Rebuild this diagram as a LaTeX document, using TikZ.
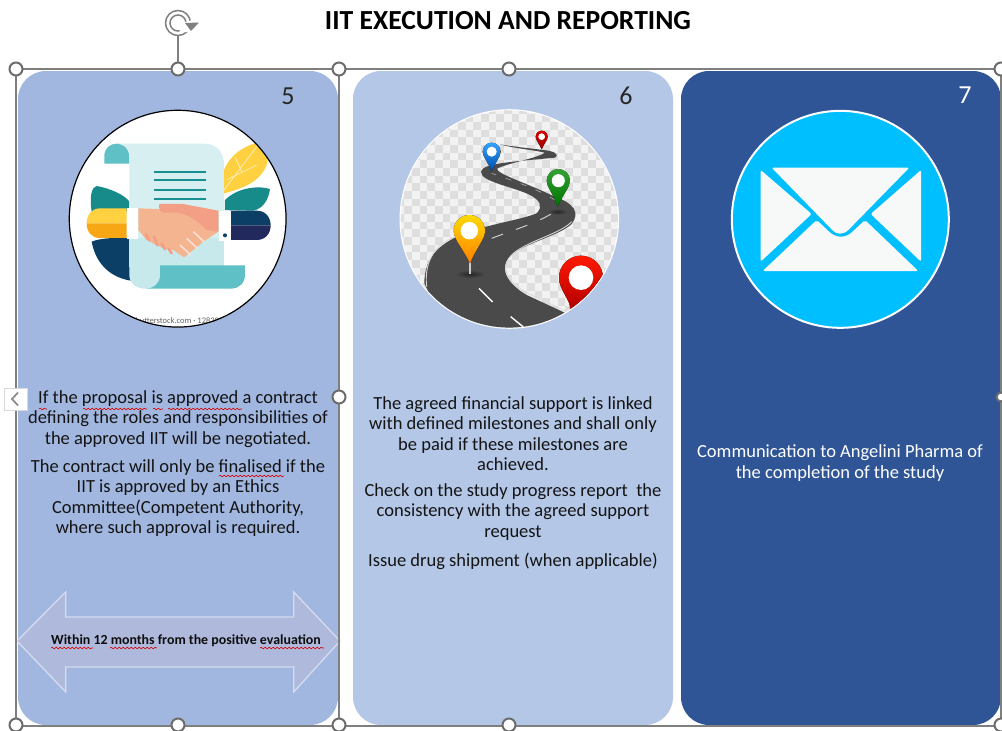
\documentclass[tikz,border=0pt]{standalone}
\usepackage{fontspec}
\setmainfont{Carlito}
\usetikzlibrary{decorations.pathmorphing}
\definecolor{panelA}{HTML}{A1B7E0}
\definecolor{panelB}{HTML}{B4C7E7}
\definecolor{panelC}{HTML}{2F5597}
\definecolor{selgray}{HTML}{7F7F7F}
\definecolor{tealA}{HTML}{5FC1C6}
\definecolor{tealB}{HTML}{178A8A}
\definecolor{navyA}{HTML}{0B3F66}
\definecolor{navyB}{HTML}{22295C}
\definecolor{yelA}{HTML}{FFD040}
\definecolor{yelB}{HTML}{F6A713}
\definecolor{skinA}{HTML}{F5B490}
\definecolor{skinB}{HTML}{F39F85}
\definecolor{road}{HTML}{4A4A4A}
\definecolor{sky}{HTML}{00BFFF}
\definecolor{envwhite}{HTML}{F7F8F8}
\definecolor{arrowfill}{HTML}{AEB9DC}
\definecolor{arrowedge}{HTML}{D5DCEF}
\tikzset{
  panelbox/.style={rounded corners=28pt},
  bodytext/.style={font=\fontsize{18.5}{20.4}\selectfont,align=center,inner sep=0pt,text=black!92},
  numtext/.style={font=\fontsize{26}{26}\selectfont,inner sep=0pt},
  handle/.style={draw=selgray!85!black,line width=2pt,fill=white,circle,minimum size=13pt,inner sep=0pt},
  selline/.style={draw=selgray,line width=1.2pt},
  squig/.style={draw=red!85!black,line width=.6pt,decorate,decoration={snake,amplitude=.8pt,segment length=4pt}}
}
\newcommand{\mappin}[7]{%
  \fill[top color=#6,bottom color=#7]
    (#1,#2) .. controls ({#3-.45*#5},{#4+1.05*#5}) and ({#3-#5},{#4+.55*#5}) .. ({#3-#5},#4)
    .. controls ({#3-#5},{#4-.55*#5}) and ({#3-.55*#5},{#4-#5}) .. (#3,{#4-#5})
    .. controls ({#3+.55*#5},{#4-#5}) and ({#3+#5},{#4-.55*#5}) .. ({#3+#5},#4)
    .. controls ({#3+#5},{#4+.55*#5}) and ({#3+.45*#5},{#4+1.05*#5}) .. (#1,#2) -- cycle;
  \fill[white] (#3,#4) circle[radius={.56*#5*.3333pt}];
}
\begin{document}
\begin{tikzpicture}[x=1pt,y=-1pt]
\useasboundingbox (0,0) rectangle (1002,731);
\fill[white] (0,0) rectangle (1002,731);

% panels
\fill[panelA,panelbox] (18,71) rectangle (338,725);
\fill[panelB,panelbox] (353,71) rectangle (673,725);
\fill[panelC,panelbox] (681,71) rectangle (1001,725);

% title
\node[font=\fontsize{27.6}{29}\selectfont\bfseries,inner sep=0pt,text=black] (title) at (508,21) {IIT EXECUTION AND REPORTING};

% numbers
\node[numtext,text=black!85] (n5) at (288,96) {5};
\node[numtext,text=black!85] (n6) at (626,96) {6};
\node[numtext,text=white] (n7) at (965,95) {7};

% ---------- handshake picture ----------
\begin{scope}[x=.33333pt,y=-.33333pt]
\fill[white] (533,656) circle[radius=108.4pt];
\begin{scope}
\clip (533,656) circle[radius=108.4pt];
% watermark
\node[font=\fontsize{8.5}{9}\selectfont,text=black!60,inner sep=0pt] (wm) at (533,961) {shutterstock.com · 128300};
% left leaves
\fill[tealB] (275,635) .. controls (268,590) and (275,560) .. (290,558) .. controls (330,565) and (375,585) .. (388,605) -- (388,635) -- cycle;
\fill[navyA] (275,725) .. controls (300,714) and (350,712) .. (392,715) -- (392,842) .. controls (320,830) and (285,780) .. (275,725) -- cycle;
% right leaves
\fill[yelA] (672,580) -- (672,510) .. controls (690,465) and (730,440) .. (765,430) .. controls (790,445) and (810,470) .. (800,495) .. controls (780,545) and (730,565) .. (672,580) -- cycle;
\draw[white!70!yelA,line width=.7pt] (672,570) -- (770,440) (705,470) -- (725,515) (680,540) -- (770,495);
% paper
\fill[tealA] (313,491) -- (313,468) .. controls (313,445) and (330,431) .. (350,431) .. controls (372,431) and (388,447) .. (388,468) -- (388,491) -- cycle;
\fill[white!75!tealA] (345,431) -- (610,431) .. controls (650,431) and (672,455) .. (672,495) -- (672,800) -- (388,800) -- (388,470) .. controls (388,445) and (372,431) .. (345,431) -- cycle;
\fill[white!65!tealA] (388,715) -- (672,715) -- (672,800) -- (388,800) -- cycle;
\fill[tealA] (440,796) -- (735,796) -- (735,825) .. controls (735,850) and (715,866) .. (695,866) -- (440,866) -- cycle;
\fill[white!65!tealA] (388,790) -- (480,790) -- (480,825) .. controls (480,850) and (460,866) .. (435,866) .. controls (410,866) and (388,850) .. (388,825) -- cycle;
\draw[teal!75!tealA,line width=2pt] (462,515) -- (617,515) (462,541) -- (617,541) (462,570) -- (617,570) (462,596) -- (617,596);
% right teal leaf, sleeve
\fill[tealB] (675,600) .. controls (710,565) and (770,555) .. (810,567) .. controls (805,600) and (790,625) .. (760,632) -- (675,630) -- cycle;
\fill[navyA] (690,632) -- (770,632) .. controls (795,632) and (812,650) .. (812,676) -- (690,676) -- cycle;
\fill[navyB] (690,676) -- (812,676) .. controls (812,702) and (795,720) .. (770,720) -- (690,720) -- cycle;
\fill[white] (658,632) rectangle (692,722);
\fill[navyA] (675,706) circle[radius=2pt];
% left sleeve
\fill[yelA] (380,625) -- (300,625) .. controls (275,625) and (260,645) .. (260,670) -- (380,670) -- cycle;
\fill[yelB] (380,670) -- (260,670) .. controls (260,695) and (275,714) .. (300,714) -- (380,714) -- cycle;
\fill[white] (380,625) rectangle (415,716);
% hands
\fill[skinA] (415,625) -- (560,630) -- (655,632) -- (655,695) -- (610,725) -- (552,772) -- (520,750) -- (490,745) -- (440,720) -- (415,690) -- cycle;
\fill[skinB] (478,612) -- (550,612) -- (655,632) -- (655,695) -- (620,690) .. controls (590,660) and (560,640) .. (530,638) -- (490,638) .. controls (478,635) and (476,625) .. (478,612) -- cycle;
\draw[skinB,line width=2.6pt,line cap=round] (437,702) -- (447,720) (462,710) -- (472,735) (485,730) -- (495,748) (505,745) -- (515,760);
\draw[white!60!skinA,line width=1.6pt] (580,695) -- (612,725) (560,715) -- (592,745) (540,735) -- (572,765);
\end{scope}
\draw[black,line width=1.2pt] (533,656) circle[radius=108.4pt];
\end{scope}

% ---------- road picture ----------
\begin{scope}[shift={(380,90)},x=.33333pt,y=-.33333pt]
\fill[white] (388,387) circle[radius=109.8pt];
\begin{scope}
\clip (388,387) circle[radius=108.6pt];
\fill[white!95!black] (40,40) rectangle (740,740);
\foreach \i in {0,...,29}{
  \foreach \j in {0,...,29}{
    \pgfmathparse{int(mod(\i+\j,2))}
    \ifnum\pgfmathresult=0
      \fill[black!13] ({50+\i*23},{50+\j*23}) rectangle +(23,23);
    \fi
  }
}
% road
\fill[road] (133,580) .. controls (133,500) and (180,455) .. (270,425)
  .. controls (340,400) and (420,390) .. (470,370)
  .. controls (490,350) and (480,330) .. (450,315)
  .. controls (400,290) and (300,275) .. (303,245)
  .. controls (305,220) and (400,215) .. (525,203)
  .. controls (540,192) and (520,183) .. (490,180)
  .. controls (450,175) and (400,170) .. (360,163)
  .. controls (400,175) and (450,178) .. (495,188)
  .. controls (470,205) and (400,215) .. (352,235)
  .. controls (345,250) and (430,275) .. (520,318)
  .. controls (585,340) and (600,370) .. (575,402)
  .. controls (540,435) and (450,455) .. (400,490)
  .. controls (350,530) and (380,580) .. (440,615)
  -- (580,680) -- (440,740) -- (200,720) -- cycle;
\draw[white!85!black,line width=.9pt] (140,590) .. controls (130,500) and (180,460) .. (215,445);
\draw[white!85!black,line width=.9pt] (560,665) -- (440,608) .. controls (380,575) and (355,530) .. (400,490) .. controls (450,450) and (540,432) .. (575,395);
\draw[white,line width=1.4pt] (297,595) -- (338,636);
\draw[white,line width=1.4pt] (392,680) -- (435,715);
\draw[white!80!black,line width=1pt,dash pattern=on 12pt off 14pt] (335,445) .. controls (400,420) and (470,400) .. (525,365);
\draw[white!75!black,line width=.5pt,dash pattern=on 6pt off 10pt] (525,330) .. controls (460,290) and (390,270) .. (335,250);
% pins
\shade[inner color=black!85,outer color=road] (270,552) ellipse[x radius=15pt,y radius=4pt];
\shade[inner color=black!85,outer color=road] (533,365) ellipse[x radius=10pt,y radius=3pt];
\draw[white!80!black,line width=1.2pt] (270,510) -- (270,552);
\mappin{270}{520}{268}{422}{47}{yellow!70!orange}{orange}
\mappin{335}{245}{335}{185}{27}{cyan!55!blue!80!white}{cyan!45!blue!65!black}
\mappin{485}{178}{485}{140}{18}{red!85!black}{red!60!black}
\mappin{533}{350}{535}{272}{35}{green!55!black!80!white}{green!45!black}
\mappin{570}{656}{603}{563}{66}{red!80!orange}{red!70!black}
\end{scope}
\end{scope}

% ---------- envelope picture ----------
\begin{scope}[shift={(700,60)},x=.33333pt,y=-.33333pt]
\fill[sky,draw=white,line width=2pt] (421,478) circle[radius=108.5pt];
\fill[envwhite,rounded corners=2pt] (215,323) -- (628,323) -- (450,505) .. controls (430,525) and (410,525) .. (392,505) -- cycle;
\fill[envwhite,rounded corners=2pt] (182,330) -- (335,462) -- (182,605) -- cycle;
\fill[envwhite,rounded corners=2pt] (663,330) -- (512,462) -- (663,605) -- cycle;
\fill[envwhite,rounded corners=2pt] (188,633) -- (350,480) -- (395,522) .. controls (415,532) and (430,532) .. (450,522) -- (495,480) -- (655,633) -- cycle;
\end{scope}

% ---------- body text ----------
\node[bodytext] (p1a) at (178,419) {If the proposal is approved a contract\\defining the roles and responsibilities of\\the approved IIT will be negotiated.};
\node[bodytext] (p1b) at (178,498) {The contract will only be finalised if the\\IIT is approved by an Ethics\\Committee(Competent Authority,\\where such approval is required.};
\node[bodytext] (p2a) at (513,433.5) {The agreed financial support is linked\\with defined milestones and shall only\\be paid if these milestones are\\achieved.};
\node[bodytext] (p2b) at (513,512) {Check on the study progress report~ the\\consistency with the agreed support\\request};
\node[bodytext] (p2c) at (513,561) {Issue drug shipment (when applicable)};
\node[bodytext,text=white] (p3) at (840,463) {Communication to Angelini Pharma of\\the completion of the study};

% ---------- double arrow ----------
\draw[fill=arrowfill,draw=arrowedge,line width=1.3pt]
  (17,641) -- (65.7,592) -- (65.7,617) -- (293.7,617) -- (293.7,592) -- (340,641) -- (293.7,692) -- (293.7,667) -- (65.7,667) -- (65.7,692) -- cycle;
\node[font=\fontsize{13.9}{15}\selectfont\bfseries,inner sep=0pt,text=black!95] (within) at (186,640.5) {Within 12 months from the positive evaluation};

% ---------- spell check marks ----------
\draw[squig] (39,409) -- (47,409);
\draw[squig] (83,409) -- (147,409);
\draw[squig] (153,409) -- (163,409);
\draw[squig] (168,409) -- (242,409);
\draw[squig] (219,476) -- (284,476);
\draw[squig] (51,648) -- (93,648);
\draw[squig] (110,648) -- (157,648);
\draw[squig] (260,648) -- (324,648);

% ---------- selection frame ----------
\coordinate (tl) at (16,69);
\coordinate (tr) at (1001,69);
\coordinate (bl) at (16,726);
\coordinate (br) at (1001,726);
\draw[selline] (tl) -- (tr) -- (br) -- (bl) -- cycle;
\draw[selline] (339,69) -- (339,726);
\node[handle] (h1) at (16,69) {};
\node[handle] (h2) at (178,69) {};
\node[handle] (h3) at (339,69) {};
\node[handle] (h4) at (509,69) {};
\node[handle] (h5) at (1001,69) {};
\node[handle] (h6) at (16,725) {};
\node[handle] (h7) at (178,725) {};
\node[handle] (h8) at (339,725) {};
\node[handle] (h9) at (509,725) {};
\node[handle] (h10) at (1001,725) {};
\node[handle] (h11) at (339,397) {};
\node[handle,minimum size=9pt] (h12) at (1001,397) {};

% rotation handle
\coordinate (rot) at (178,36);
\draw[selline] (rot) -- (h2);
\draw[selgray,line width=1.5pt] (178,23) circle[radius=12.5pt];
\draw[selgray,line width=1.5pt] (178,23) circle[radius=8pt];
\fill[white] (178,24) -- (200,18) -- (200,32) -- (180,32) -- cycle;
\fill[selgray] (185,23) -- (199,22.5) -- (191,31) -- cycle;

% collapse tab
\fill[white,draw=black!15,line width=.8pt] (4,388) rectangle (27,410);
\draw[black!45,line width=1.8pt] (18,392.5) -- (12,399) -- (18,405.5);
\end{tikzpicture}
\end{document}
